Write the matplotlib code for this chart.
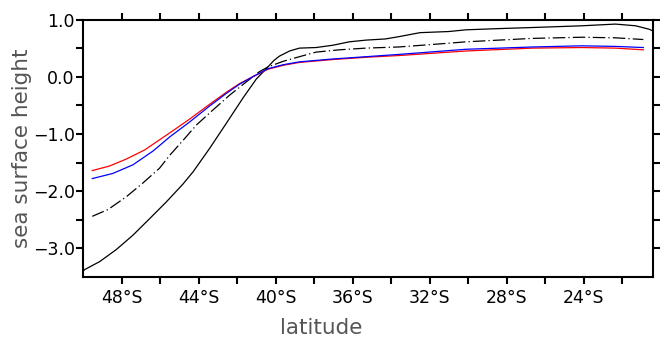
import matplotlib
matplotlib.use("Agg")
import matplotlib.pyplot as plt
from matplotlib.ticker import FixedLocator, FuncFormatter

# Sea surface height profiles across the southern latitudes
lat_solid = [-50.0, -49.91, -49.13, -48.27, -47.41, -46.54, -45.68, -44.82, -44.28, -43.42,
             -42.55, -41.69, -41.0, -40.48, -40.1, -39.8, -39.27, -38.76, -37.9,
             -37.03, -36.17, -35.3, -34.3, -33.6, -32.5, -31.0, -30.1, -28.5, -26.65,
             -24.1, -22.35, -21.3, -20.6, -20.4]
ssh_solid = [-3.40, -3.37, -3.23, -3.02, -2.77, -2.48, -2.19, -1.88, -1.66, -1.25,
             -0.81, -0.37, -0.04, 0.14, 0.28, 0.36, 0.45, 0.50, 0.51,
             0.55, 0.61, 0.64, 0.66, 0.70, 0.77, 0.79, 0.82, 0.84, 0.86,
             0.89, 0.92, 0.89, 0.83, 0.80]

lat_dash = [-49.52, -48.7, -47.76, -46.9, -46.03, -45.49, -44.8, -44.1, -43.25, -42.38,
            -41.52, -40.83, -40.4, -39.6, -38.76, -37.9, -36.7, -35.3, -33.6, -32.0,
            -30.1, -28.4, -26.65, -24.1, -22.35, -20.9]
ssh_dash = [-2.44, -2.32, -2.10, -1.86, -1.60, -1.37, -1.11, -0.84, -0.58, -0.32,
            -0.09, 0.09, 0.17, 0.27, 0.35, 0.43, 0.47, 0.50, 0.52, 0.56,
            0.61, 0.64, 0.67, 0.69, 0.68, 0.65]

lat_red = [-49.52, -48.62, -47.76, -46.8, -45.49, -44.46, -43.42, -42.55, -41.87, -41.18,
           -40.4, -39.6, -38.76, -37.03, -35.3, -33.6, -30.1, -26.65, -24.1, -22.35, -20.9]
ssh_red = [-1.64, -1.56, -1.44, -1.28, -0.98, -0.74, -0.48, -0.27, -0.12, 0.0,
           0.13, 0.20, 0.25, 0.30, 0.34, 0.37, 0.45, 0.50, 0.51, 0.50, 0.47]

lat_blue = [-49.52, -48.45, -47.41, -46.37, -45.49, -44.46, -43.42, -42.55, -41.87, -41.18,
            -40.4, -39.6, -38.76, -37.03, -35.3, -33.6, -30.1, -26.65, -24.1, -22.35, -20.9]
ssh_blue = [-1.78, -1.69, -1.54, -1.30, -1.05, -0.79, -0.51, -0.29, -0.13, 0.0,
            0.14, 0.21, 0.26, 0.31, 0.35, 0.39, 0.48, 0.52, 0.54, 0.53, 0.51]

xticks_major = [-48, -44, -40, -36, -32, -28, -24]
xticks_minor = [-46, -42, -38, -34, -30, -26, -22]
yticks_major = [-3.0, -2.0, -1.0, 0.0, 1.0]
yticks_minor = [-2.5, -1.5, -0.5, 0.5]

plt.rcParams['font.family'] = ['DejaVu Sans']

fig = plt.figure(figsize=(6.68, 3.38), dpi=100)
ax = fig.add_axes([0.1243, 0.1805, 0.9775 - 0.1243, 0.9423 - 0.1805])

ax.plot(lat_solid, ssh_solid, color='black', lw=0.9)
ax.plot(lat_dash, ssh_dash, color='black', lw=0.9, dashes=(10, 2.5, 1, 2.5))
ax.plot(lat_red, ssh_red, color='#ff0000', lw=0.9)
ax.plot(lat_blue, ssh_blue, color='#0000ff', lw=0.9)

ax.set_xlim(-50, -20.4)
ax.set_ylim(-3.5, 1.0)

ax.xaxis.set_major_locator(FixedLocator(xticks_major))
ax.xaxis.set_minor_locator(FixedLocator(xticks_minor))
ax.yaxis.set_major_locator(FixedLocator(yticks_major))
ax.yaxis.set_minor_locator(FixedLocator(yticks_minor))
ax.xaxis.set_major_formatter(FuncFormatter(lambda v, p: f"{abs(v):.0f}°S"))
ax.yaxis.set_major_formatter(FuncFormatter(lambda v, p: f"{v:.1f}".replace('-', '\u2212')))

for s in ax.spines.values():
    s.set_linewidth(1.5)

ax.tick_params(which='both', direction='out', length=5, width=1.5,
               top=True, right=True, labelsize=12.5, colors='black')
ax.tick_params(axis='x', which='major', pad=4)
ax.tick_params(axis='y', which='major', pad=1)

ax.set_xlabel('latitude', fontsize=15.5, color='#555555', va='baseline')
ax.xaxis.set_label_coords(0.4175, -0.222)
ax.set_ylabel('sea surface height', fontsize=15.5, color='#555555')
ax.yaxis.set_label_coords(-0.09, 0.5)

fig.savefig('out.png', dpi=100)
